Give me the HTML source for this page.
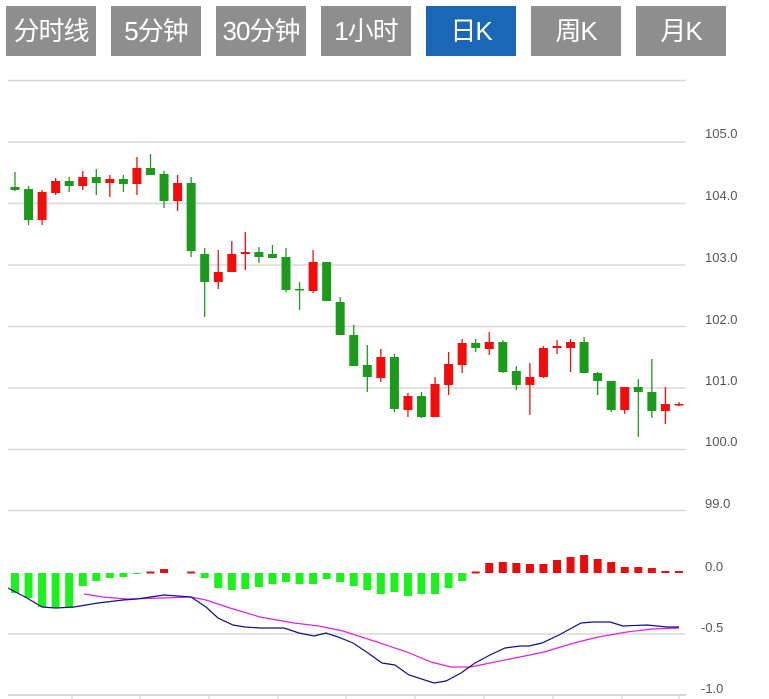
<!DOCTYPE html>
<html><head><meta charset="utf-8"><style>
body{margin:0;background:#fff;width:769px;height:699px;overflow:hidden;font-family:"Liberation Sans","Noto Sans CJK SC",sans-serif}
.b{position:absolute;top:6px;width:90px;height:50px;background:#8e8e8e;color:#fff;font-size:26px;line-height:50px;text-align:center;letter-spacing:-1px}
.a{background:#1a67b5}
svg{position:absolute;left:0;top:0}
</style></head><body>
<div class="b" style="left:6px">分时线</div>
<div class="b" style="left:111px">5分钟</div>
<div class="b" style="left:216px">30分钟</div>
<div class="b" style="left:321px">1小时</div>
<div class="b a" style="left:426px">日K</div>
<div class="b" style="left:531px">周K</div>
<div class="b" style="left:636px">月K</div>
<svg id="s" width="769" height="699" xmlns="http://www.w3.org/2000/svg">
<g font-family="Liberation Sans, sans-serif" font-size="13" fill="#555">
<text x="705" y="138">105.0</text><text x="705" y="200">104.0</text><text x="705" y="262">103.0</text>
<text x="705" y="324">102.0</text><text x="705" y="385">101.0</text><text x="705" y="446">100.0</text>
<text x="705" y="508">99.0</text><text x="705" y="571">0.0</text><text x="701" y="632">-0.5</text><text x="701" y="693">-1.0</text>
</g>
</svg>
<script>
var s=document.getElementById('s'),h='';
[80.5,142,203.5,265,326.5,388,449.5,510.5,634].forEach(function(y){h+='<line x1="8" x2="686" y1="'+y+'" y2="'+y+'" stroke="#d8d8d8" stroke-width="1.5"/>';});
h+='<line x1="8" x2="686" y1="695" y2="695" stroke="#ccc" stroke-width="1.5"/>';
[72,140,209,278,346,415,484,553,622,679].forEach(function(x){h+='<line x1="'+x+'" x2="'+x+'" y1="695" y2="699" stroke="#ccc"/>';});
var c=[['G',187,190,172,191],['G',189,220,186,225],['R',192,220,190,225],['R',181,193,178,195],['G',181,186,177,192],['R',177,186,171,190],['G',177,183,169,195],['R',179,183,175,197],['G',179,184,175,192],['R',168,184,157,195],['G',168,175,154,175],['G',174,201,171,208],['R',183,201,175,211],['G',183,251,177,257],['G',254,282,248,317],['R',272,282,250,289],['R',254,272,241,272],['R',252,254,232,270],['G',252,257,247,263],['G',254,258,245,258],['G',257,290,248,292],['G',289,290,282,310],['R',262,291,250,293],['G',262,301,262,301],['G',302,335,297,335],['G',335,366,325,366],['G',365,377,345,392],['R',357,378,349,382],['G',357,409,354,412],['R',396,410,393,417],['G',396,417,392,418],['R',384,417,377,417],['R',364,385,352,395],['R',343,365,339,373],['G',343,348,339,352],['R',342,349,332,355],['G',342,372,340,373],['G',371,385,366,390],['R',377,385,363,415],['R',348,377,346,378],['R',346,348,340,354],['R',342,348,339,372],['G',342,373,337,373],['G',373,381,372,395],['G',381,410,381,412],['R',387,410,387,414],['G',387,392,379,437],['G',392,411,359,418],['R',404,411,387,424],['R',404,405,402,406]];
function X(i){return 15+13.55*i;}
c.forEach(function(d,i){var col=d[0]=='G'?'#1c9a1c':'#f20d0d',x=X(i);
h+='<line x1="'+x+'" x2="'+x+'" y1="'+d[3]+'" y2="'+d[4]+'" stroke="'+col+'" stroke-width="1.3"/>';
h+='<rect x="'+(x-4.5)+'" y="'+d[1]+'" width="9" height="'+Math.max(d[2]-d[1],1.5)+'" fill="'+col+'"/>';});
var z=573,hb=[593,598,607,608,608,586,581,578,577,574,571.5,569,573,571.5,578,588,590,589,587,584,582,584,584,579,582,586,590,594,592,596,594,594,588,581,571.5,563,562,563,564,564,560,557,555,559,562,567,567,568,571,571];
hb.forEach(function(v,i){if(v==z)return;var x=X(i)-4,col=v>z?'#1df01d':'#e60d0d';var y=Math.min(v,z),hh=Math.abs(v-z);
if(i==10||i==13||i==34){y=z-1.5;hh=2;}
h+='<rect x="'+x+'" y="'+y+'" width="8" height="'+hh+'" fill="'+col+'"/>';});
var bl=[[8,588],[27,598],[42,607],[56,608],[74,607],[98,603],[123,600],[137,599],[164,595],[191,597],[206,607],[218,618],[233,625],[245,627],[260,628],[284,628],[299,633],[314,636],[326,633],[338,637],[353,643],[368,653],[382,663],[395,665],[409,675],[434,683],[446,681],[461,673],[475,663],[490,655],[505,648],[520,646],[529,646],[542,643],[559,635],[581,623],[593,622],[610,622],[623,626],[647,625],[667,627],[679,627]];
var mg=[[84,594],[103,597],[127,599],[162,598],[191,597],[206,600],[230,608],[260,617],[294,623],[319,626],[343,631],[377,642],[407,652],[431,662],[451,667],[471,667],[490,663],[520,657],[544,652],[574,643],[598,637],[627,632],[652,629],[679,628]];
function P(a){return a.map(function(p){return p.join(',')}).join(' ');}
h+='<polyline points="'+P(mg)+'" fill="none" stroke="#e020e0" stroke-width="1.2"/>';
h+='<polyline points="'+P(bl)+'" fill="none" stroke="#101090" stroke-width="1.2"/>';
s.insertAdjacentHTML('afterbegin',h);
</script>
</body></html>
